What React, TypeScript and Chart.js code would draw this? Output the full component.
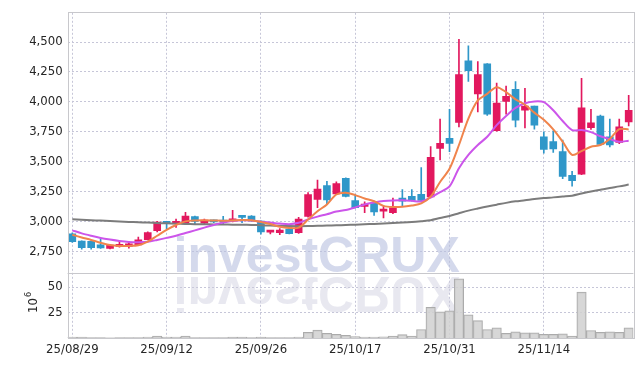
import React, { useEffect, useRef } from 'react';
import { Chart, registerables } from 'chart.js';

Chart.register(...registerables);

const dates = [
  '25/08/29',
  '25/09/01', '25/09/02', '25/09/03', '25/09/04', '25/09/05',
  '25/09/08', '25/09/09', '25/09/10', '25/09/11', '25/09/12',
  '25/09/15', '25/09/16', '25/09/17', '25/09/18', '25/09/19',
  '25/09/22', '25/09/23', '25/09/24', '25/09/25', '25/09/26',
  '25/09/29', '25/09/30', '25/10/01', '25/10/02', '25/10/10',
  '25/10/13', '25/10/14', '25/10/15', '25/10/16', '25/10/17',
  '25/10/20', '25/10/21', '25/10/22', '25/10/23', '25/10/24',
  '25/10/27', '25/10/28', '25/10/29', '25/10/30', '25/10/31',
  '25/11/03', '25/11/04', '25/11/05', '25/11/06', '25/11/07',
  '25/11/10', '25/11/11', '25/11/12', '25/11/13', '25/11/14',
  '25/11/17', '25/11/18', '25/11/19', '25/11/20', '25/11/21',
  '25/11/24', '25/11/25', '25/11/26', '25/11/27',
];

const opens = [
  2897, 2835, 2833, 2804, 2774, 2790, 2790, 2804, 2848, 2923,
  2990, 2984, 2978, 3040, 2985, 3004, 3000, 3001, 3045, 3045,
  3003, 2910, 2906, 2935, 2906, 3042, 3183, 3300, 3230, 3360,
  3175, 3125, 3155, 3086, 3072, 3196, 3210, 3227, 3205, 3611,
  3694, 3827, 4344, 4067, 4319, 3758, 4004, 4104, 3930, 3965,
  3708, 3667, 3584, 3385, 3395, 3785, 3882, 3708, 3661, 3832,
];
const highs = [
  2905, 2838, 2838, 2854, 2808, 2835, 2830, 2868, 2912, 3000,
  2995, 3020, 3075, 3045, 3020, 3012, 3042, 3092, 3050, 3048,
  3005, 2925, 2940, 2958, 3035, 3241, 3346, 3335, 3330, 3365,
  3225, 3163, 3170, 3128, 3196, 3266, 3266, 3451, 3625, 3855,
  3938, 4523, 4468, 4336, 4320, 4158, 4131, 4170, 4114, 3965,
  3750, 3758, 3681, 3418, 4197, 3938, 3890, 3855, 3855, 4054,
];
const lows = [
  2825, 2768, 2768, 2775, 2770, 2785, 2777, 2800, 2845, 2912,
  2940, 2950, 2975, 2980, 2980, 2990, 2975, 2995, 2990, 3000,
  2893, 2895, 2890, 2895, 2900, 3035, 3114, 3142, 3225, 3205,
  3110, 3072, 3050, 3030, 3064, 3128, 3169, 3170, 3200, 3515,
  3584, 3791, 4170, 3915, 3887, 3755, 3896, 3791, 3783, 3772,
  3570, 3578, 3357, 3294, 3390, 3769, 3640, 3623, 3650, 3799,
];
const closes = [
  2831, 2780, 2780, 2779, 2802, 2808, 2813, 2846, 2906, 2995,
  2983, 2998, 3045, 3000, 3012, 2996, 2995, 3022, 3034, 3003,
  2912, 2920, 2928, 2898, 3020, 3225, 3271, 3180, 3316, 3210,
  3114, 3144, 3080, 3094, 3114, 3169, 3175, 3175, 3536, 3653,
  3653, 4228, 4261, 4228, 3896, 3990, 4046, 3847, 3965, 3805,
  3603, 3606, 3376, 3341, 3949, 3824, 3644, 3639, 3791, 3930,
];

// volume in millions
const volumes = [
  1.0, 0.8, 0.3, 0.3, 0.2, 0.3, 0.3, 0.5, 1.0, 1.8,
  1.0, 1.0, 1.8, 0.5, 0.3, 0.3, 0.3, 0.8, 0.8, 0.3,
  0.8, 0.3, 0.3, 0.3, 1.0, 5.5, 7.8, 4.5, 3.5, 2.5,
  1.5, 1.0, 1.0, 1.2, 2.0, 3.3, 2.0, 8.3, 30, 25.6,
  26.6, 58, 22.8, 17, 8.3, 10, 4.5, 6, 5, 5,
  3.5, 3.5, 4, 2, 45, 7.4, 5.5, 6, 5.5, 10,
];

const maShort = [
  2888, 2866, 2845, 2822, 2802, 2795, 2795, 2800, 2830, 2880,
  2930, 2970, 3000, 3008, 3010, 3008, 3005, 3008, 3012, 3010,
  2995, 2978, 2955, 2945, 2948, 3015, 3085, 3142, 3225, 3240,
  3220, 3192, 3169, 3130, 3120, 3122, 3133, 3150, 3208, 3330,
  3440, 3639, 3860, 4012, 4067, 4123, 4081, 4021, 3976, 3910,
  3850, 3770, 3667, 3556, 3588, 3625, 3639, 3690, 3772, 3769,
];
const maMid = [
  2925, 2900, 2880, 2862, 2848, 2836, 2828, 2826, 2830, 2845,
  2862, 2880, 2903, 2925, 2948, 2970, 2990, 3005, 3010, 3008,
  2998, 2990, 2982, 2977, 2988, 3017, 3040, 3060, 3082, 3095,
  3117, 3142, 3158, 3170, 3175, 3176, 3172, 3167, 3200, 3245,
  3293, 3445, 3556, 3639, 3708, 3805, 3882, 3949, 3988, 4004,
  3998, 3930, 3840, 3764, 3764, 3747, 3712, 3688, 3667, 3675,
];
const maLong = [
  3017, 3014, 3010, 3007, 3004, 3000, 2996, 2993, 2990, 2987,
  2984, 2981, 2979, 2977, 2976, 2975, 2974, 2973, 2972, 2970,
  2968, 2965, 2963, 2961, 2960, 2961, 2963, 2965, 2967, 2970,
  2973, 2976, 2979, 2982, 2986, 2990, 2995, 3002, 3010, 3028,
  3045, 3068, 3090, 3108, 3125, 3140, 3155, 3168, 3177, 3187,
  3195, 3201, 3208, 3215, 3233, 3250, 3265, 3280, 3293, 3308,
];

const priceTicks = [2750, 3000, 3250, 3500, 3750, 4000, 4250, 4500];
const volumeTicks = [25, 50];
const labelEvery = 10;

const UP = '#e2185e';
const DOWN = '#2f97c9';
const GRID = '#c6c6d8';
const FAMILY = '"DejaVu Sans Condensed", "DejaVu Sans", sans-serif';
const FONT = { family: FAMILY, size: 13 };
const TEXT = '#262626';

const decor = {
  id: 'decor',
  beforeDatasetsDraw(chart: any) {
    const { ctx, chartArea: a, scales } = chart;
    const yb = scales.y.bottom;
    ctx.save();
    ctx.beginPath();
    ctx.rect(a.left, a.top, a.right - a.left, a.bottom - a.top);
    ctx.clip();
    ctx.font = 'bold 50px "Liberation Sans", Arial, sans-serif';
    ctx.textAlign = 'left';
    ctx.textBaseline = 'alphabetic';
    const tx = a.left + 106;
    ctx.fillStyle = 'rgba(185,194,225,0.62)';
    ctx.fillText('investCRUX', tx, yb - 1);
    ctx.save();
    ctx.translate(0, 2 * yb + 3);
    ctx.scale(1, -1);
    ctx.fillStyle = 'rgba(205,205,222,0.45)';
    ctx.fillText('investCRUX', tx, yb - 1);
    ctx.restore();
    ctx.restore();
  },
  afterDraw(chart: any) {
    const { ctx, chartArea: a, scales } = chart;
    const yb = scales.y.bottom;
    ctx.save();
    ctx.strokeStyle = '#c8c8cc';
    ctx.lineWidth = 1;
    ctx.strokeRect(Math.round(a.left) + 0.5, Math.round(a.top) - 0.5, Math.round(a.right - a.left), Math.round(a.bottom - a.top) + 1);
    ctx.beginPath();
    ctx.moveTo(a.left, Math.round(yb) + 0.5);
    ctx.lineTo(a.right, Math.round(yb) + 0.5);
    ctx.stroke();
    // axis title 10^6
    ctx.fillStyle = TEXT;
    ctx.translate(37, 313);
    ctx.rotate(-Math.PI / 2);
    ctx.textAlign = 'left';
    ctx.textBaseline = 'alphabetic';
    ctx.font = '13px ' + FAMILY;
    ctx.fillText('10', 0, 0);
    const w = ctx.measureText('10').width;
    ctx.font = '9px ' + FAMILY;
    ctx.fillText('6', w + 1, -6);
    ctx.restore();
  },
};

export default function App() {
  const ref = useRef<HTMLCanvasElement | null>(null);

  useEffect(() => {
    if (!ref.current) return;
    const candleColors = opens.map((o, i) => (closes[i] >= o ? UP : DOWN));
    const bodies = opens.map((o, i) => [Math.min(o, closes[i]), Math.max(o, closes[i])]);
    const wicks = lows.map((l, i) => [l, highs[i]]);

    const chart = new Chart(ref.current, {
      type: 'bar',
      data: {
        labels: dates,
        datasets: [
          {
            type: 'line',
            data: maShort,
            borderColor: '#f0844c',
            borderWidth: 2,
            pointRadius: 0,
            tension: 0.3,
            yAxisID: 'y',
            order: 0,
          } as any,
          {
            type: 'line',
            data: maMid,
            borderColor: '#cc55ea',
            borderWidth: 2,
            pointRadius: 0,
            tension: 0.3,
            yAxisID: 'y',
            order: 0,
          },
          {
            type: 'line',
            data: maLong,
            borderColor: '#7c7c7c',
            borderWidth: 2,
            pointRadius: 0,
            tension: 0.3,
            yAxisID: 'y',
            order: 0,
          },
          {
            type: 'bar',
            data: bodies,
            backgroundColor: candleColors,
            borderWidth: 0,
            barThickness: 7,
            minBarLength: 2,
            grouped: false,
            yAxisID: 'y',
            order: 1,
          },
          {
            type: 'bar',
            data: wicks,
            backgroundColor: candleColors,
            borderWidth: 0,
            barThickness: 1,
            grouped: false,
            yAxisID: 'y',
            order: 2,
          },
          {
            type: 'bar',
            data: volumes,
            backgroundColor: 'rgba(208,208,208,0.85)',
            borderColor: '#ababab',
            borderWidth: 1,
            barPercentage: 1,
            categoryPercentage: 1,
            grouped: false,
            yAxisID: 'yv',
            order: 3,
          },
        ] as any,
      },
      options: {
        responsive: false,
        animation: false,
        layout: { padding: { left: 0, right: 8.6, top: 10, bottom: 0 } },
        plugins: { legend: { display: false }, tooltip: { enabled: false } },
        scales: {
          x: {
            type: 'category',
            offset: true,
            grid: {
              display: true,
              color: GRID,
              drawTicks: false,
              offset: false,
            } as any,
            border: { display: false, dash: [2, 2] },
            ticks: {
              autoSkip: false,
              maxRotation: 0,
              padding: 4,
              color: TEXT,
              font: FONT,
              callback: (_v: any, i: number) => (i % labelEvery === 0 ? dates[i] : null),
            },
            afterFit: (s: any) => {
              s.height = 28;
            },
          },
          y: {
            type: 'linear',
            position: 'left',
            stack: 'panels',
            stackWeight: 262,
            weight: 2,
            min: 2572,
            max: 4745,
            grid: { color: GRID, drawTicks: false },
            border: { display: false, dash: [2, 2] },
            ticks: {
              autoSkip: false,
              padding: 5,
              color: TEXT,
              font: FONT,
              callback: (v: any) => Number(v).toLocaleString('en-US'),
            },
            afterBuildTicks: (s: any) => {
              s.ticks = priceTicks.map((value) => ({ value }));
            },
            afterFit: (s: any) => {
              s.width = 67.6;
            },
          },
          yv: {
            type: 'linear',
            position: 'left',
            stack: 'panels',
            stackWeight: 66,
            weight: 1,
            min: 0,
            max: 64.2,
            grid: { color: GRID, drawTicks: false },
            border: { display: false, dash: [2, 2] },
            ticks: {
              autoSkip: false,
              padding: 5,
              color: TEXT,
              font: FONT,
            },
            afterBuildTicks: (s: any) => {
              s.ticks = volumeTicks.map((value) => ({ value }));
            },
            afterFit: (s: any) => {
              s.width = 67.6;
            },
          },
        },
      } as any,
      plugins: [decor],
    });
    return () => chart.destroy();
  }, []);

  return (
    <div style={{ position: 'fixed', left: 0, top: 0, width: 642, height: 366, background: '#fff' }}>
      <canvas ref={ref} width={642} height={366} />
    </div>
  );
}
